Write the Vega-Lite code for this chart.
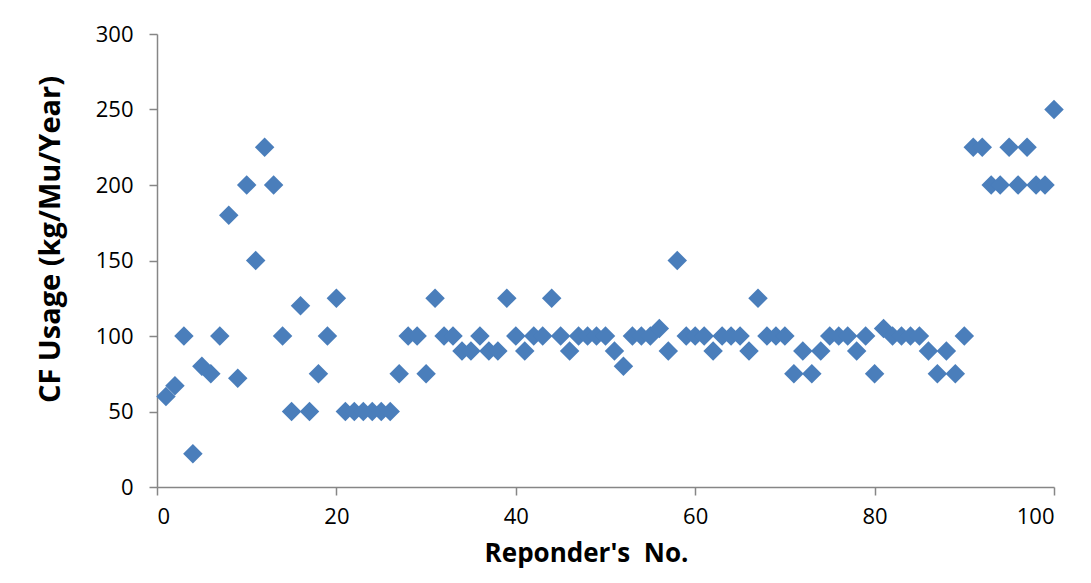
{
  "$schema": "https://vega.github.io/schema/vega-lite/v6.json",
  "width": 897,
  "height": 453,
  "autosize": {"type": "none"},
  "padding": {"left": 157, "top": 34, "right": 37, "bottom": 96},
  "background": "white",
  "config": {
    "view": {"stroke": null},
    "font": "Open Sans",
    "axis": {
      "grid": false,
      "domainColor": "#868686",
      "domainWidth": 1.5,
      "tickColor": "#868686",
      "tickWidth": 1.5,
      "tickSize": 8,
      "labelColor": "#000000",
      "labelFont": "Open Sans",
      "labelFontSize": 22,
      "titleFont": "Open Sans",
      "titleFontWeight": "bold",
      "titleColor": "#000000"
    }
  },
  "data": {
    "values": [
      {"n": 1, "v": 60}, {"n": 2, "v": 67}, {"n": 3, "v": 100}, {"n": 4, "v": 22}, {"n": 5, "v": 80},
      {"n": 6, "v": 75}, {"n": 7, "v": 100}, {"n": 8, "v": 180}, {"n": 9, "v": 72}, {"n": 10, "v": 200},
      {"n": 11, "v": 150}, {"n": 12, "v": 225}, {"n": 13, "v": 200}, {"n": 14, "v": 100}, {"n": 15, "v": 50},
      {"n": 16, "v": 120}, {"n": 17, "v": 50}, {"n": 18, "v": 75}, {"n": 19, "v": 100}, {"n": 20, "v": 125},
      {"n": 21, "v": 50}, {"n": 22, "v": 50}, {"n": 23, "v": 50}, {"n": 24, "v": 50}, {"n": 25, "v": 50},
      {"n": 26, "v": 50}, {"n": 27, "v": 75}, {"n": 28, "v": 100}, {"n": 29, "v": 100}, {"n": 30, "v": 75},
      {"n": 31, "v": 125}, {"n": 32, "v": 100}, {"n": 33, "v": 100}, {"n": 34, "v": 90}, {"n": 35, "v": 90},
      {"n": 36, "v": 100}, {"n": 37, "v": 90}, {"n": 38, "v": 90}, {"n": 39, "v": 125}, {"n": 40, "v": 100},
      {"n": 41, "v": 90}, {"n": 42, "v": 100}, {"n": 43, "v": 100}, {"n": 44, "v": 125}, {"n": 45, "v": 100},
      {"n": 46, "v": 90}, {"n": 47, "v": 100}, {"n": 48, "v": 100}, {"n": 49, "v": 100}, {"n": 50, "v": 100},
      {"n": 51, "v": 90}, {"n": 52, "v": 80}, {"n": 53, "v": 100}, {"n": 54, "v": 100}, {"n": 55, "v": 100},
      {"n": 56, "v": 105}, {"n": 57, "v": 90}, {"n": 58, "v": 150}, {"n": 59, "v": 100}, {"n": 60, "v": 100},
      {"n": 61, "v": 100}, {"n": 62, "v": 90}, {"n": 63, "v": 100}, {"n": 64, "v": 100}, {"n": 65, "v": 100},
      {"n": 66, "v": 90}, {"n": 67, "v": 125}, {"n": 68, "v": 100}, {"n": 69, "v": 100}, {"n": 70, "v": 100},
      {"n": 71, "v": 75}, {"n": 72, "v": 90}, {"n": 73, "v": 75}, {"n": 74, "v": 90}, {"n": 75, "v": 100},
      {"n": 76, "v": 100}, {"n": 77, "v": 100}, {"n": 78, "v": 90}, {"n": 79, "v": 100}, {"n": 80, "v": 75},
      {"n": 81, "v": 105}, {"n": 82, "v": 100}, {"n": 83, "v": 100}, {"n": 84, "v": 100}, {"n": 85, "v": 100},
      {"n": 86, "v": 90}, {"n": 87, "v": 75}, {"n": 88, "v": 90}, {"n": 89, "v": 75}, {"n": 90, "v": 100},
      {"n": 91, "v": 225}, {"n": 92, "v": 225}, {"n": 93, "v": 200}, {"n": 94, "v": 200}, {"n": 95, "v": 225},
      {"n": 96, "v": 200}, {"n": 97, "v": 225}, {"n": 98, "v": 200}, {"n": 99, "v": 200}, {"n": 100, "v": 250}
    ]
  },
  "mark": {"type": "point", "shape": "diamond", "filled": true, "size": 380, "color": "#4A7EBB", "opacity": 1},
  "encoding": {
    "x": {
      "field": "n",
      "type": "quantitative",
      "scale": {"domain": [0, 100], "nice": false, "zero": true},
      "axis": {"values": [0, 20, 40, 60, 80, 100], "title": "Reponder's\u00a0\u00a0No.", "titleFontSize": 26, "titleX": 429, "labelPadding": 11, "titlePadding": 13}
    },
    "y": {
      "field": "v",
      "type": "quantitative",
      "scale": {"domain": [0, 300], "nice": false},
      "axis": {"values": [0, 50, 100, 150, 200, 250, 300], "title": "CF Usage (kg/Mu/Year)", "titleFontSize": 29, "titleY": 205, "labelPadding": 16, "titlePadding": 30}
    }
  }
}
